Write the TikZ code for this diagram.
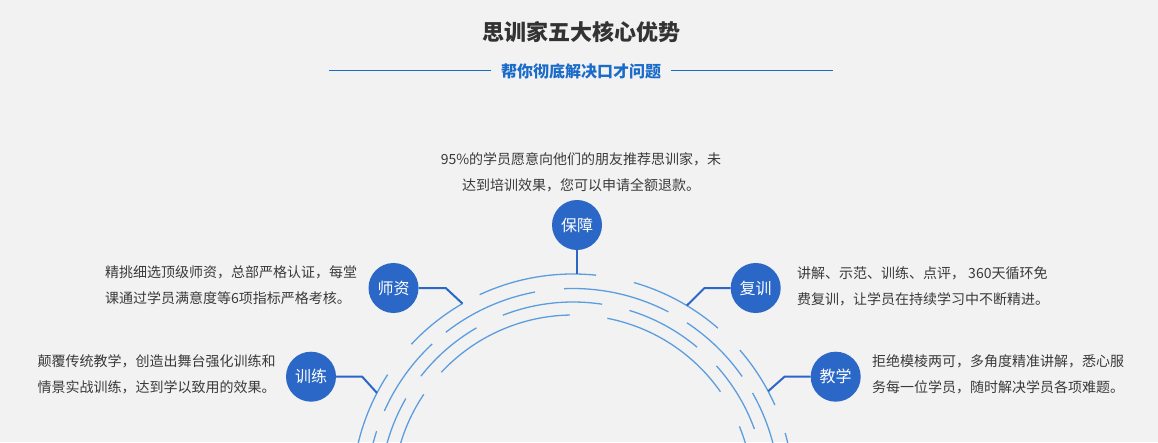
\documentclass[tikz,border=0pt]{standalone}
\usepackage{fontspec}
\setmainfont{Noto Sans CJK SC}
\definecolor{bggray}{HTML}{F2F2F2}
\definecolor{sxblue}{HTML}{2A67C6}
\definecolor{ringblue}{HTML}{5C9DDF}
\definecolor{txtgray}{HTML}{3A3A3A}
\definecolor{subblue}{HTML}{1B6CC9}
\usetikzlibrary{positioning}
\tikzset{
  badge/.style={circle,fill=sxblue,minimum size=50pt,inner sep=0pt,text=white,font=\fontsize{16}{16}\selectfont},
  desc/.style={align=left,inner sep=0pt,text=txtgray,font=\fontsize{14}{26}\selectfont},
  link/.style={draw=sxblue,line width=2pt},
  ring/.style={draw=ringblue,line width=1.3pt}
}
\begin{document}
\begin{tikzpicture}[x=1pt,y=1pt]
        \useasboundingbox[fill=bggray] (0,0) rectangle (1158,442);
        \node[font=\fontsize{22}{22}\selectfont\bfseries,text=black!80] (title) at (581,410) {思训家五大核心优势};
        \node[font=\fontsize{16}{16}\selectfont\bfseries,text=subblue] (sub) at (581,371) {帮你彻底解决口才问题};
        \draw[subblue,line width=1pt] ([xshift=-6pt]sub.west) -- +(-162,0);
        \draw[subblue,line width=1pt] ([xshift=6pt]sub.east) -- +(162,0);
        \coordinate (ctr) at (573,-53);
        \begin{scope}
          \clip (0,0) rectangle (1158,442);
          \foreach \r/\a/\b in {221/84/115,221/49/74,221/24/41,221/0/16.3,221/120/137,221/147/180,
                                206.5/62.5/92.5,206.5/35/56.5,206.5/0/29.6,206.5/100.6/128,206.5/133/156,206.5/162/180,
                                193/81.3/111.3,193/50/73,193/20/42,193/120/142,193/150/180,
                                180/35/79,180/0/22.4,180/91/137,180/146/180}
            \draw[ring] ([shift={(\a:\r pt)}]ctr) arc[start angle=\a,end angle=\b,radius=\r pt];
        \end{scope}
        \coordinate (hitbz) at ([shift={(89:221pt)}]ctr);
        \coordinate (hitsz) at ([shift={(120:221pt)}]ctr);
        \coordinate (hitfx) at ([shift={(59:221pt)}]ctr);
        \coordinate (hitxl) at ([shift={(152.5:221pt)}]ctr);
        \coordinate (hitjx) at ([shift={(28:221pt)}]ctr);
        \node[badge] (baozhang) at (577,217) {保障};
        \node[badge] (shizi) at (393.5,154) {师资};
        \node[badge] (fuxun) at (755.7,154) {复训};
        \node[badge] (xunlian) at (311,65.3) {训练};
        \node[badge] (jiaoxue) at (835.7,65.3) {教学};
        \draw[link] (baozhang.south) -- (baozhang.south |- hitbz);
        \draw[link] (shizi.east) -- ++(27,0) -- (hitsz);
        \draw[link] (fuxun.west) -- ++(-26,0) -- (hitfx);
        \draw[link] (xunlian.east) -- ++(26,0) -- (hitxl);
        \draw[link] (jiaoxue.west) -- ++(-26,0) -- (hitjx);
        \node[desc,align=center,above=8pt of baozhang,xshift=4pt] (bztxt) {95\%的学员愿意向他们的朋友推荐思训家，未\\达到培训效果，您可以申请全额退款。};
        \node[desc,left=11pt of shizi,yshift=3pt] (sztxt) {精挑细选顶级师资，总部严格认证，每堂\\课通过学员满意度等6项指标严格考核。};
        \node[desc,right=16pt of fuxun,yshift=2pt] (fxtxt) {讲解、示范、训练、点评， 360天循环免\\费复训，让学员在持续学习中不断精进。};
        \node[desc,left=10pt of xunlian,yshift=2pt] (xltxt) {颠覆传统教学，创造出舞台强化训练和\\情景实战训练，达到学以致用的效果。};
        \node[desc,right=11pt of jiaoxue,yshift=2pt] (jxtxt) {拒绝模棱两可，多角度精准讲解，悉心服\\务每一位学员，随时解决学员各项难题。};
      \end{tikzpicture}
\end{document}
